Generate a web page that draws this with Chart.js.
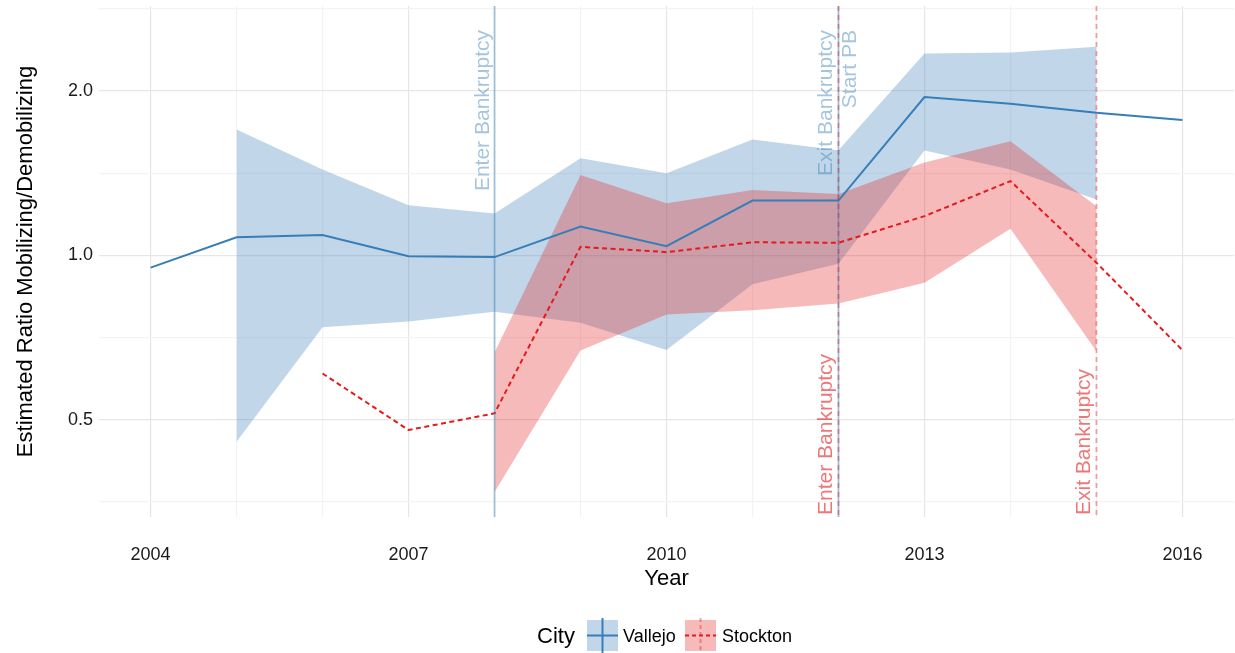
<!DOCTYPE html>
<html lang="en">
<head>
<meta charset="UTF-8">
<title>Estimated Ratio Mobilizing/Demobilizing</title>
<script src="https://cdn.jsdelivr.net/npm/chart.js@4.4.0/dist/chart.umd.min.js"></script>
<style>
  body { margin: 0; background: #fff; }
</style>
</head>
<body>
<canvas id="chart" width="1235" height="653"></canvas>
<script>
// --- data ---
const years = [2004, 2005, 2006, 2007, 2008, 2009, 2010, 2011, 2012, 2013, 2014, 2015, 2016];
const vallejoRatio = [0.95, 1.08, 1.09, 0.997, 0.993, 1.13, 1.04, 1.26, 1.26, 1.95, 1.895, 1.825, 1.77];

const vallejoBandYears = [2005, 2006, 2007, 2008, 2009, 2010, 2011, 2012, 2013, 2014, 2015];
const vallejoLow  = [0.456, 0.739, 0.757, 0.789, 0.753, 0.671, 0.886, 0.966, 1.556, 1.437, 1.266];
const vallejoHigh = [1.70, 1.437, 1.236, 1.194, 1.507, 1.414, 1.63, 1.558, 2.342, 2.352, 2.41];

const stocktonYears = [2006, 2007, 2008, 2009, 2010, 2011, 2012, 2013, 2014, 2015, 2016];
const stocktonRatio = [0.608, 0.479, 0.514, 1.037, 1.014, 1.057, 1.055, 1.18, 1.368, 0.97, 0.671];

const stocktonBandYears = [2008, 2009, 2010, 2011, 2012, 2013, 2014, 2015];
const stocktonLow  = [0.369, 0.67, 0.78, 0.794, 0.817, 0.891, 1.119, 0.668];
const stocktonHigh = [0.664, 1.403, 1.246, 1.317, 1.295, 1.48, 1.619, 1.231];

const vallejoEventYears  = [2008, 2012, 2012];
const vallejoEventLabels = ['Enter Bankruptcy', 'Exit Bankruptcy', 'Start PB'];
const stocktonEventYears  = [2012, 2015];
const stocktonEventLabels = ['Enter Bankruptcy', 'Exit Bankruptcy'];

const xTickLabels = [2004, 2007, 2010, 2013, 2016];
const yTickLabels = [0.5, 1.0, 2.0];
const yMinorGrid  = [0.3536, 0.7071, 1.4142, 2.8284];

// --- styling ---
const FONT = '"Liberation Sans", Arial, Helvetica, sans-serif';
const BLUE = '#377EB8';
const RED = '#E41A1C';
const BLUE_BAND = 'rgba(55,126,184,0.31)';
const RED_BAND = 'rgba(228,26,28,0.3)';
const BLUE_FAINT = 'rgba(55,126,184,0.45)';
const RED_FAINT = 'rgba(228,26,28,0.4)';
const RED_TEXT = 'rgba(228,26,28,0.6)';
const GRID_MAJOR = '#E6E6E6';
const GRID_MINOR = '#F3F3F3';

function pts(xs, ys) { return xs.map((x, i) => ({ x: x, y: ys[i] })); }

const eventsPlugin = {
  id: 'events',
  afterDatasetsDraw(chart) {
    const { ctx, chartArea: a, scales: { x } } = chart;
    ctx.save();
    ctx.lineWidth = 1.8;
    // vertical lines
    [...new Set(vallejoEventYears)].forEach(yr => {
      const px = x.getPixelForValue(yr);
      ctx.strokeStyle = BLUE_FAINT;
      ctx.setLineDash([]);
      ctx.beginPath(); ctx.moveTo(px, a.top); ctx.lineTo(px, a.bottom); ctx.stroke();
    });
    stocktonEventYears.forEach(yr => {
      const px = x.getPixelForValue(yr);
      ctx.strokeStyle = RED_FAINT;
      ctx.setLineDash([5, 4]);
      ctx.beginPath(); ctx.moveTo(px, a.top); ctx.lineTo(px, a.bottom); ctx.stroke();
    });
    ctx.setLineDash([]);

    // labels
    ctx.font = '21px ' + FONT;
    ctx.textBaseline = 'alphabetic';
    const seen = {};
    vallejoEventYears.forEach((yr, i) => {
      const px = x.getPixelForValue(yr);
      const right = seen[yr];
      seen[yr] = true;
      ctx.save();
      ctx.translate(right ? px + 18 : px - 6, a.top + 24);
      ctx.rotate(-Math.PI / 2);
      ctx.textAlign = 'right';
      ctx.fillStyle = BLUE_FAINT;
      ctx.fillText(vallejoEventLabels[i], 0, 0);
      ctx.restore();
    });
    stocktonEventYears.forEach((yr, i) => {
      const px = x.getPixelForValue(yr);
      ctx.save();
      ctx.translate(px - 6, a.bottom - 2);
      ctx.rotate(-Math.PI / 2);
      ctx.textAlign = 'left';
      ctx.fillStyle = RED_TEXT;
      ctx.fillText(stocktonEventLabels[i], 0, 0);
      ctx.restore();
    });
    ctx.restore();
  },
  afterDraw(chart) {
    // ggplot style legend at the bottom
    const ctx = chart.ctx;
    ctx.save();
    ctx.fillStyle = '#000';
    ctx.textBaseline = 'alphabetic';
    ctx.textAlign = 'left';
    ctx.font = '22px ' + FONT;
    ctx.fillText('City', 537, 643);

    function key(x0, band, line, faint, dash) {
      const y0 = 620, s = 31;
      ctx.fillStyle = band;
      ctx.fillRect(x0, y0, s, s);
      ctx.lineWidth = 2;
      ctx.setLineDash(dash);
      ctx.strokeStyle = faint;
      ctx.beginPath(); ctx.moveTo(x0 + s / 2, y0 - 2); ctx.lineTo(x0 + s / 2, y0 + s + 2); ctx.stroke();
      ctx.strokeStyle = line;
      ctx.beginPath(); ctx.moveTo(x0, y0 + s / 2); ctx.lineTo(x0 + s, y0 + s / 2); ctx.stroke();
      ctx.setLineDash([]);
    }
    key(587, BLUE_BAND, BLUE, BLUE, []);
    key(685, RED_BAND, RED, RED_FAINT, [4, 3]);

    ctx.fillStyle = '#000';
    ctx.font = '18px ' + FONT;
    ctx.fillText('Vallejo', 623, 642);
    ctx.fillText('Stockton', 722, 642);
    ctx.restore();
  }
};

const noLine = { borderWidth: 0, borderColor: 'rgba(0,0,0,0)', pointRadius: 0, fill: false };

new Chart(document.getElementById('chart').getContext('2d'), {
  type: 'line',
  data: {
    datasets: [
      { label: 'Stockton', data: pts(stocktonYears, stocktonRatio), borderColor: RED, borderWidth: 2,
        borderDash: [5, 3.5], pointRadius: 0, fill: false, tension: 0 },
      { label: 'Vallejo', data: pts(years, vallejoRatio), borderColor: BLUE, borderWidth: 2,
        pointRadius: 0, fill: false, tension: 0 },
      Object.assign({ label: 'Stockton low', data: pts(stocktonBandYears, stocktonLow) }, noLine),
      Object.assign({ label: 'Stockton high', data: pts(stocktonBandYears, stocktonHigh) }, noLine,
        { fill: 2, backgroundColor: RED_BAND }),
      Object.assign({ label: 'Vallejo low', data: pts(vallejoBandYears, vallejoLow) }, noLine),
      Object.assign({ label: 'Vallejo high', data: pts(vallejoBandYears, vallejoHigh) }, noLine,
        { fill: 4, backgroundColor: BLUE_BAND })
    ]
  },
  options: {
    responsive: false,
    animation: false,
    events: [],
    layout: { padding: { top: 6, right: 1, left: 0, bottom: 60 } },
    plugins: { legend: { display: false }, tooltip: { enabled: false } },
    scales: {
      x: {
        type: 'linear',
        min: 2003.4,
        max: 2016.6,
        bounds: 'data',
        border: { display: false },
        grid: {
          drawTicks: false,
          lineWidth: 1.2,
          color: c => (c.tick && xTickLabels.includes(c.tick.value)) ? GRID_MAJOR : GRID_MINOR
        },
        afterBuildTicks: s => { s.ticks = years.map(v => ({ value: v })); },
        afterFit: s => { s.height = 76; s.paddingLeft = 0; s.paddingRight = 0; },
        ticks: {
          autoSkip: false,
          maxRotation: 0,
          padding: 27,
          color: '#1a1a1a',
          font: { family: FONT, size: 18 },
          callback: v => xTickLabels.includes(v) ? String(v) : ''
        },
        title: {
          display: true,
          text: 'Year',
          color: '#000',
          font: { family: FONT, size: 22 },
          padding: { top: 0, bottom: 1 }
        }
      },
      y: {
        type: 'logarithmic',
        min: 0.332,
        max: 2.862,
        bounds: 'data',
        border: { display: false },
        grid: {
          drawTicks: false,
          lineWidth: 1.2,
          color: c => (c.tick && yTickLabels.includes(c.tick.value)) ? GRID_MAJOR : GRID_MINOR
        },
        afterBuildTicks: s => {
          s.ticks = yTickLabels.concat(yMinorGrid).sort((a, b) => a - b).map(v => ({ value: v }));
        },
        afterFit: s => { s.width = 99; s.paddingTop = 0; s.paddingBottom = 0; },
        ticks: {
          autoSkip: false,
          padding: 6,
          color: '#1a1a1a',
          font: { family: FONT, size: 18 },
          callback: v => yTickLabels.includes(v) ? v.toFixed(1) : ''
        },
        title: {
          display: true,
          text: 'Estimated Ratio Mobilizing/Demobilizing',
          color: '#000',
          font: { family: FONT, size: 22 },
          padding: { top: 13, bottom: 0 }
        }
      }
    }
  },
  plugins: [eventsPlugin]
});
</script>
</body>
</html>
